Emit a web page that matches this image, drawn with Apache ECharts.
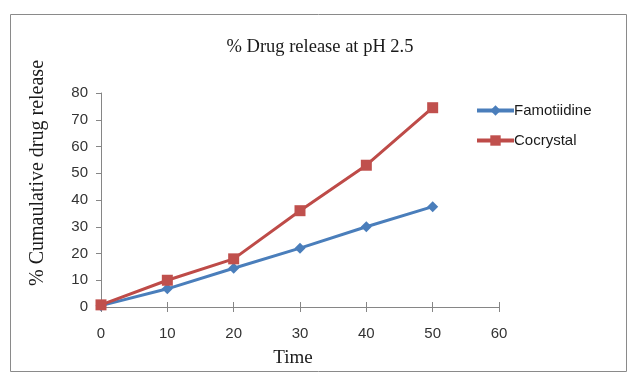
<!DOCTYPE html>
<html>
<head>
<meta charset="utf-8">
<script src="https://cdn.jsdelivr.net/npm/echarts@6/dist/echarts.min.js"></script>
<style>
  html, body { margin: 0; padding: 0; background: #ffffff; }
  #chart { width: 628px; height: 374px; }
</style>
</head>
<body>
<div id="chart"></div>
<script>
// Sampling times (x) and cumulative release (%) for each formulation
const times = [0, 10, 20, 30, 40, 50];
const famotidine = [0.5, 6.8, 14.5, 22, 30, 37.5];
const cocrystal = [0.8, 10, 18, 36, 53, 74.5];
const xTicks = [0, 10, 20, 30, 40, 50, 60];
const yTicks = [0, 10, 20, 30, 40, 50, 60, 70, 80];

const pairs = (ys) => times.map((t, i) => [t, ys[i]]);

const serif = '"Liberation Serif", "Times New Roman", serif';
const sans = '"Liberation Sans", Arial, sans-serif';

const chart = echarts.init(document.getElementById('chart'), null, { renderer: 'canvas' });

chart.setOption({
  backgroundColor: '#ffffff',
  animation: false,
  title: {
    text: '% Drug release at pH 2.5',
    left: 315, top: 33, textAlign: 'center',
    textStyle: { fontFamily: serif, fontSize: 18.5, fontWeight: 'normal', color: '#1a1a1a' }
  },
  legend: {
    orient: 'vertical', left: 470, top: 98, itemGap: 15,
    itemWidth: 37, itemHeight: 13,
    lineStyle: { width: 4 },
    textStyle: { fontFamily: sans, fontSize: 15, color: '#1a1a1a', padding: [0, 0, 0, -5] },
    data: ['Famotiidine', 'Cocrystal']
  },
  graphic: [
    { type: 'rect', shape: { x: 10.5, y: 14.5, width: 616, height: 357 },
      style: { fill: 'none', stroke: '#8a8a8a', lineWidth: 1 }, z: -1 },
    { type: 'text', x: 38, y: 173, rotation: Math.PI / 2,
      style: { text: '% Cumaulative drug release', fontFamily: serif, fontSize: 20,
               fill: '#1a1a1a', align: 'center', verticalAlign: 'middle' } },
    { type: 'text', x: 293, y: 358,
      style: { text: 'Time', fontFamily: serif, fontSize: 19,
               fill: '#1a1a1a', align: 'center', verticalAlign: 'middle' } }
  ],
  grid: { left: 101, right: 129, top: 93, bottom: 67 },
  xAxis: [{
    type: 'value', min: 0, max: 60, interval: 10,
    axisLine: { show: true, lineStyle: { color: '#868686', width: 1 } },
    axisTick: { show: true, inside: true, length: 5, lineStyle: { color: '#868686' } },
    axisLabel: { fontFamily: sans, fontSize: 15, color: '#333', margin: 19,
                 formatter: (v) => xTicks.includes(v) ? String(v) : '' },
    splitLine: { show: false }
  }, {
    type: 'value', min: 0, max: 60, interval: 10, position: 'bottom',
    axisLine: { show: false },
    axisTick: { show: true, length: 5, lineStyle: { color: '#868686' } },
    axisLabel: { show: false },
    splitLine: { show: false }
  }],
  yAxis: {
    type: 'value', min: 0, max: 80, interval: 10,
    axisLine: { show: true, lineStyle: { color: '#868686', width: 1 } },
    axisTick: { show: true, length: 5, lineStyle: { color: '#868686' } },
    axisLabel: { fontFamily: sans, fontSize: 15, color: '#333', margin: 13,
                 formatter: (v) => yTicks.includes(v) ? String(v) : '' },
    splitLine: { show: false }
  },
  series: [{
    name: 'Famotiidine', type: 'line', data: pairs(famotidine),
    symbol: 'diamond', symbolSize: 11,
    lineStyle: { color: '#4a7ebb', width: 3 },
    itemStyle: { color: '#4a7ebb' }, z: 2
  }, {
    name: 'Cocrystal', type: 'line', data: pairs(cocrystal),
    symbol: 'rect', symbolSize: 11,
    lineStyle: { color: '#be4b48', width: 3 },
    itemStyle: { color: '#c0504d' }, z: 3
  }]
});
</script>
</body>
</html>
